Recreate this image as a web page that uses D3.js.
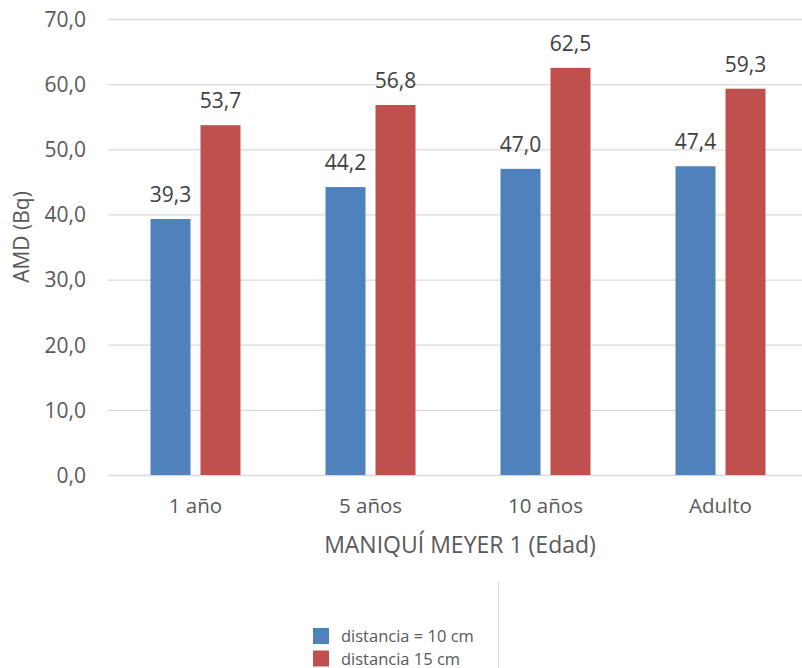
<!DOCTYPE html>
<html><head><meta charset="utf-8">
<script src="https://cdn.jsdelivr.net/npm/d3@7"></script>
<style>body{margin:0;background:#fff}svg{display:block;font-family:"Open Sans",sans-serif}</style>
</head><body>
<script>
const categories = ["1 año", "5 años", "10 años", "Adulto"];
const seriesNames = ["distancia = 10 cm", "distancia 15 cm"];
const series10 = [39.3, 44.2, 47.0, 47.4];
const series15 = [53.7, 56.8, 62.5, 59.3];
const yTicks = [0, 10, 20, 30, 40, 50, 60, 70];
const colors = ["#4F81BD", "#C0504D"];

const W = 802, H = 668;
const svg = d3.select("body").append("svg").attr("width", W).attr("height", H);
const fmt = v => d3.format(".1f")(v).replace(".", ",");

const y = d3.scaleLinear().domain([0, 70]).range([475, 19]);
const x = d3.scaleBand().domain(categories).range([108, 808]);
const xs = d3.scaleBand().domain([0, 1]).range([-45, 45]).paddingInner(0.2);

// gridlines
svg.append("g").selectAll("line").data(yTicks).join("line")
  .attr("x1", 108).attr("x2", W)
  .attr("y1", d => y(d) + 0.5).attr("y2", d => y(d) + 0.5)
  .attr("stroke", "#d9d9d9").attr("stroke-width", 1.3);

// y axis labels
const yAxis = d3.axisLeft(y).tickValues(yTicks).tickFormat(fmt).tickSize(0).tickPadding(0);
const ya = svg.append("g").attr("transform", "translate(86,0)").call(yAxis);
ya.select(".domain").remove();
ya.selectAll("text").attr("font-size", 21).attr("fill", "#595959").attr("font-family", "Open Sans").attr("dy", "0.35em");

// x axis labels
const xAxis = d3.axisBottom(x).tickSize(0).tickPadding(0);
const xa = svg.append("g").attr("transform", "translate(0,498)").call(xAxis);
xa.select(".domain").remove();
xa.selectAll("text").attr("font-size", 20.5).attr("fill", "#595959").attr("font-family", "Open Sans").attr("dy", "0.71em");

const data = [series10, series15];
data.forEach((vals, si) => {
  const g = svg.append("g");
  g.selectAll("rect").data(vals).join("rect")
    .attr("x", (d, i) => x(categories[i]) + x.bandwidth() / 2 + xs(si))
    .attr("width", xs.bandwidth())
    .attr("y", d => y(d))
    .attr("height", d => y(0) - y(d))
    .attr("fill", colors[si]);
  g.selectAll("text").data(vals).join("text")
    .attr("x", (d, i) => x(categories[i]) + x.bandwidth() / 2 + xs(si) + xs.bandwidth() / 2)
    .attr("y", d => y(d) - 17)
    .attr("text-anchor", "middle")
    .attr("font-size", 21).attr("fill", "#404040")
    .text(fmt);
});

// axis titles
svg.append("text").attr("x", 460).attr("y", 553).attr("text-anchor", "middle")
  .attr("font-size", 23).attr("fill", "#595959").text("MANIQUÍ MEYER 1 (Edad)");
svg.append("text").attr("transform", "translate(29,237) rotate(-90)").attr("text-anchor", "middle")
  .attr("font-size", 21).attr("fill", "#595959").text("AMD (Bq)");

// legend
svg.append("line").attr("x1", 498.5).attr("x2", 498.5).attr("y1", 582).attr("y2", H)
  .attr("stroke", "#d9d9d9").attr("stroke-width", 1.3);
const leg = svg.append("g").selectAll("g").data(seriesNames).join("g")
  .attr("transform", (d, i) => `translate(313,${628 + i * 22.5})`);
leg.append("rect").attr("width", 16).attr("height", 16).attr("fill", (d, i) => colors[i]);
leg.append("text").attr("x", 28).attr("y", 14).attr("font-size", 16.5).attr("fill", "#595959").text(d => d);
</script>
</body></html>
